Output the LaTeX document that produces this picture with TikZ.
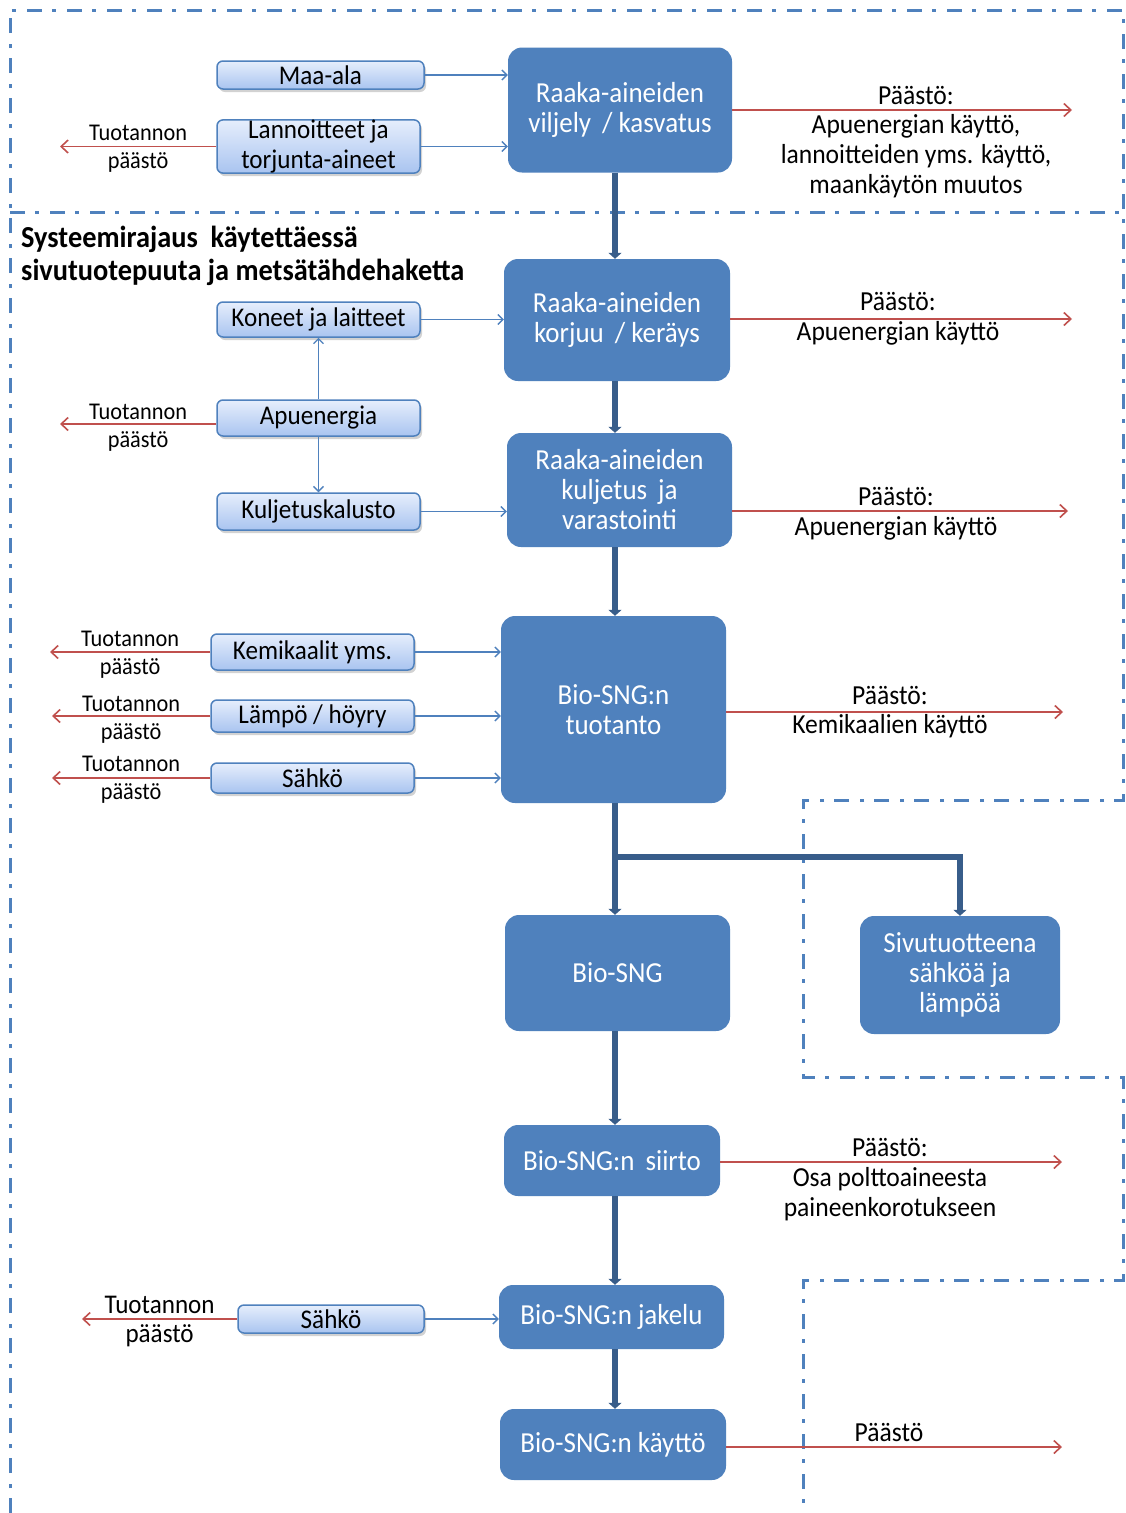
\documentclass[tikz,border=0pt]{standalone}
\usepackage{fontspec}
\setmainfont{Carlito}[FakeStretch=0.93]
\usetikzlibrary{arrows.meta,shadows}
\definecolor{mainblue}{HTML}{4F81BD}
\definecolor{darkblue}{HTML}{385D8A}
\definecolor{redc}{HTML}{C0504D}
\definecolor{lighttop}{HTML}{E6EEFC}
\definecolor{lightbot}{HTML}{A9C4F0}
\begin{document}
\begin{tikzpicture}[x=1pt,y=-1pt,
  mainbox/.style={fill=mainblue, rounded corners=14pt, text=white, align=center,
    font=\fontsize{29}{30}\selectfont, inner sep=0pt},
  smallbox/.style={draw=mainblue, line width=1.5pt, rounded corners=6pt,
    top color=lighttop, bottom color=lightbot,
    drop shadow={shadow xshift=2pt, shadow yshift=-3pt, opacity=0.35},
    font=\fontsize{27}{30}\selectfont, align=center, inner sep=0pt},
  feed/.style={draw=mainblue, line width=1.3pt, -{Straight Barb[length=5pt,width=10pt]}},
  emit/.style={draw=redc, line width=1.6pt, -{Straight Barb[length=7pt,width=13pt]}},
  flow/.style={draw=darkblue, line width=6pt, -{Triangle[length=6pt,width=13pt]}},
  boundary/.style={draw=mainblue, line width=3pt, dash pattern=on 15pt off 10pt on 4pt off 11pt},
  lbl/.style={font=\fontsize{27.5}{30}\selectfont, align=center, inner sep=0pt},
  tl/.style={font=\fontsize{24}{26}\selectfont, inner sep=0pt},
  tlb/.style={font=\fontsize{27}{28}\selectfont, inner sep=0pt},
  title/.style={font=\bfseries\fontsize{30.5}{33}\selectfont, align=left, inner sep=0pt, anchor=north west}]
\useasboundingbox (0,0) rectangle (1125,1513);
\fill[white] (0,0) rectangle (1125,1513);

% boundaries
\draw[boundary] (10,1513) -- (10,10) -- (1123,10) -- (1123,800) -- (803,800) -- (803,1077) -- (1123,1077) -- (1123,1280) -- (803,1280) -- (803,1513);
\draw[boundary] (10,212) -- (1123,212);

% title
\node[title] (ttl) at (21,226) {Systeemirajaus\ \ käytettäessä\\sivutuotepuuta ja metsätähdehaketta};

% main boxes
\node[mainbox, minimum width=224pt, minimum height=125pt] (m1) at (620,110) {Raaka-aineiden\\viljely\ \,/\ kasvatus};
\node[mainbox, minimum width=226pt, minimum height=122pt] (m2) at (617,320) {Raaka-aineiden\\korjuu\ \,/\ keräys};
\node[mainbox, minimum width=225pt, minimum height=114pt] (m3) at (619.5,490) {Raaka-aineiden\\kuljetus\ \,ja\\varastointi};
\node[mainbox, minimum width=225pt, minimum height=187pt] (m4) at (613.5,709.5) {Bio-SNG:n\\tuotanto};
\node[mainbox, minimum width=225pt, minimum height=116pt] (m5) at (617.5,973) {Bio-SNG};
\node[mainbox, minimum width=200pt, minimum height=118pt] (m6) at (960,975) {Sivutuotteena\\sähköä ja\\lämpöä};
\node[mainbox, minimum width=216pt, minimum height=71pt] (m7) at (612,1160.5) {Bio-SNG:n\ \,siirto};
\node[mainbox, minimum width=225pt, minimum height=64pt] (m8) at (611.5,1317) {Bio-SNG:n jakelu};
\node[mainbox, minimum width=226pt, minimum height=71pt] (m9) at (613,1444.5) {Bio-SNG:n\ käyttö};

% small boxes
\node[smallbox, minimum width=207pt, minimum height=28pt] (maa) at (320.5,75) {Maa-ala};
\node[smallbox, minimum width=203pt, minimum height=53pt] (lan) at (318.5,146.5) {Lannoitteet ja\\torjunta-aineet};
\node[smallbox, minimum width=203pt, minimum height=35pt] (kon) at (318.5,319.5) {Koneet ja laitteet};
\node[smallbox, minimum width=203pt, minimum height=36pt] (apu) at (318.5,418) {Apuenergia};
\node[smallbox, minimum width=203pt, minimum height=37pt] (kul) at (318.5,511.5) {Kuljetuskalusto};
\node[smallbox, minimum width=203pt, minimum height=36pt] (kem) at (312.5,652) {Kemikaalit yms.};
\node[smallbox, minimum width=203pt, minimum height=32pt] (lam) at (312.5,716) {Lämpö / höyry};
\node[smallbox, minimum width=203pt, minimum height=30pt] (sah1) at (312.5,778) {Sähkö};
\node[smallbox, minimum width=186pt, minimum height=28pt] (sah2) at (331,1319) {Sähkö};

% trunk
\coordinate (tx) at (615,0);
\coordinate (br) at (615,857);
\draw[flow] (tx |- m1.south) -- (tx |- m2.north);
\draw[flow] (tx |- m2.south) -- (tx |- m3.north);
\draw[flow] (tx |- m3.south) -- (tx |- m4.north);
\draw[flow] (tx |- m4.south) -- (tx |- m5.north);
\draw[flow] (br) -| (m6.north);
\draw[flow] (tx |- m5.south) -- (tx |- m7.north);
\draw[flow] (tx |- m7.south) -- (tx |- m8.north);
\draw[flow] (tx |- m8.south) -- (tx |- m9.north);

% feeds
\draw[feed] (maa.east) -- (maa.east -| m1.west);
\draw[feed] (lan.east) -- (lan.east -| m1.west);
\draw[feed] (kon.east) -- (kon.east -| m2.west);
\draw[feed] (apu.north) -- (kon.south);
\draw[feed] (apu.south) -- (kul.north);
\draw[feed] (kul.east) -- (kul.east -| m3.west);
\draw[feed] (kem.east) -- (kem.east -| m4.west);
\draw[feed] (lam.east) -- (lam.east -| m4.west);
\draw[feed] (sah1.east) -- (sah1.east -| m4.west);
\draw[feed] (sah2.east) -- (sah2.east -| m8.west);

% left emissions
\coordinate (la) at (60,0);
\coordinate (lb) at (50,0);
\coordinate (lc) at (52,0);
\coordinate (ld) at (82,0);
\draw[emit] (lan.west) -- node[tl, yshift=14pt] (t1a) {Tuotannon} node[tl, yshift=-16pt] (t1b) {päästö} (lan.west -| la);
\draw[emit] ([yshift=-6pt]apu.west) -- node[tl, yshift=12pt] (t2a) {Tuotannon} node[tl, yshift=-17pt] (t2b) {päästö} ([yshift=-6pt]apu.west -| la);
\draw[emit] (kem.west) -- node[tl, yshift=13pt] (t3a) {Tuotannon} node[tl, yshift=-16pt] (t3b) {päästö} (kem.west -| lb);
\draw[emit] (lam.west) -- node[tl, yshift=12pt] (t4a) {Tuotannon} node[tl, yshift=-17pt] (t4b) {päästö} (lam.west -| lc);
\draw[emit] (sah1.west) -- node[tl, yshift=14pt] (t5a) {Tuotannon} node[tl, yshift=-15pt] (t5b) {päästö} (sah1.west -| lc);
\draw[emit] (sah2.west) -- node[tlb, yshift=14pt] (t6a) {Tuotannon} node[tlb, yshift=-17pt] (t6b) {päästö} (sah2.west -| ld);

% right emissions
\coordinate (r1) at (1072,110);
\coordinate (r2) at (1072,319);
\coordinate (r3) at (1068,511);
\coordinate (r4) at (1063,712);
\coordinate (r7) at (1062,1162);
\coordinate (r9) at (1062,1447);
\draw[emit] (r1 -| m1.east) -- (r1);
\draw[emit] (r2 -| m2.east) -- (r2);
\draw[emit] (r3 -| m3.east) -- (r3);
\draw[emit] (r4 -| m4.east) -- (r4);
\draw[emit] (r7 -| m7.east) -- (r7);
\draw[emit] (r9 -| m9.east) -- (r9);

\node[lbl] (p1a) at (916,96) {Päästö:};
\node[lbl] (p1b) at (916,156) {Apuenergian käyttö,\\lannoitteiden yms. käyttö,\\maankäytön muutos};
\node[lbl] (p2a) at (898,302) {Päästö:};
\node[lbl] (p2b) at (898,333) {Apuenergian käyttö};
\node[lbl] (p3a) at (896,497) {Päästö:};
\node[lbl] (p3b) at (896,528) {Apuenergian käyttö};
\node[lbl] (p4a) at (890,695) {Päästö:};
\node[lbl] (p4b) at (890,726) {Kemikaalien käyttö};
\node[lbl] (p7a) at (890,1147) {Päästö:};
\node[lbl] (p7b) at (890,1194) {Osa polttoaineesta\\paineenkorotukseen};
\node[lbl] (p9a) at (889,1432) {Päästö};
\end{tikzpicture}
\end{document}
